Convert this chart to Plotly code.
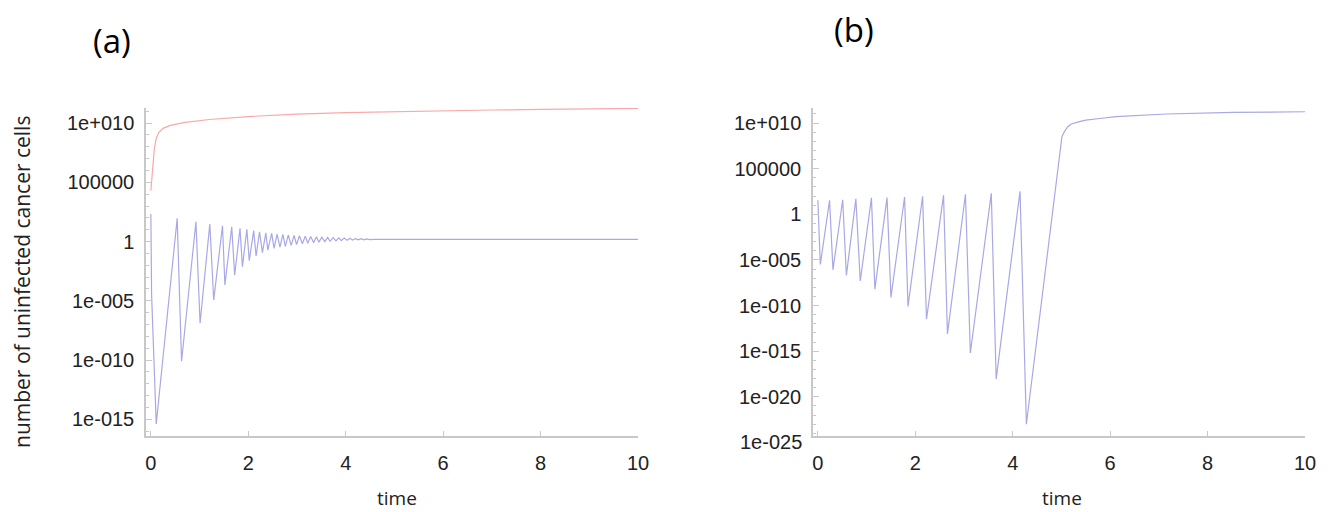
import plotly.graph_objects as go

# ---------------- data ----------------
# Panel (a): red series (log10 of value)
a_red_t = [0.0, 0.03, 0.07, 0.11, 0.16, 0.25, 0.4, 0.7, 1.2, 2.0, 3.0, 4.0, 5.0, 6.0, 7.0, 8.0, 9.0, 10.0]
a_red_log = [4.3, 6.0, 7.8, 8.7, 9.2, 9.55, 9.8, 10.05, 10.3, 10.55, 10.75, 10.88, 10.97, 11.04, 11.1, 11.15, 11.2, 11.24]

# Panel (a): blue series (log10 of value)
a_blue_t = [0.0, 0.015, 0.11, 0.54, 0.63, 0.925, 1.01, 1.21, 1.29, 1.47, 1.52, 1.66, 1.72,
            1.83, 1.88, 1.97, 2.02, 2.11, 2.16, 2.23, 2.29, 2.36, 2.40, 2.48, 2.53,
            2.59, 2.65, 2.71, 2.76, 2.82, 2.88, 2.94, 2.99, 3.05, 3.11, 3.17, 3.22,
            3.28, 3.34, 3.40, 3.45, 3.51, 3.57, 3.63, 3.68, 3.74, 3.80, 3.86, 3.91,
            3.97, 4.03, 4.09, 4.14, 4.20, 4.26, 4.32, 4.37, 4.43, 4.49, 4.55, 4.60,
            4.8, 10.0]
a_blue_log = [2.32, -4.5, -15.4, 1.96, -10.1, 1.67, -6.9, 1.48, -4.94, 1.33, -3.67, 1.24, -2.83,
              1.11, -2.13, 1.03, -1.62, 0.92, -1.22, 0.83, -0.94, 0.74, -0.72, 0.69, -0.58,
              0.63, -0.47, 0.60, -0.40, 0.55, -0.32, 0.52, -0.25, 0.49, -0.19, 0.46, -0.14,
              0.43, -0.09, 0.40, -0.05, 0.37, -0.01, 0.35, 0.02, 0.33, 0.05, 0.31, 0.08,
              0.29, 0.10, 0.27, 0.12, 0.25, 0.14, 0.24, 0.15, 0.22, 0.17, 0.21, 0.18,
              0.19, 0.19]

# Panel (b): blue series (log10 of value)
b_blue_t = [0.0, 0.05, 0.24, 0.31, 0.51, 0.585, 0.78, 0.87, 1.10, 1.17, 1.42, 1.50, 1.78, 1.85,
            2.15, 2.23, 2.58, 2.66, 3.03, 3.13, 3.56, 3.66, 4.15, 4.28, 5.01, 5.06, 5.13,
            5.2, 5.37, 5.5, 5.78, 6.12, 7.15, 8.52, 10.0]
b_blue_log = [1.54, -5.5, 1.54, -6.08, 1.6, -6.7, 1.7, -7.3, 1.8, -8.2, 1.83, -9.1, 1.9, -10.1,
              1.98, -11.5, 2.1, -13.1, 2.2, -15.2, 2.3, -18.05, 2.53, -23.0, 8.5, 9.05, 9.6,
              9.9, 10.15, 10.33, 10.5, 10.7, 10.99, 11.17, 11.24]

# tick labels
x_ticks = [0, 2, 4, 6, 8, 10]
a_ytick_exp = [10, 5, 0, -5, -10, -15]
a_ytick_text = ["1e+010", "100000", "1", "1e-005", "1e-010", "1e-015"]
b_ytick_exp = [10, 5, 0, -5, -10, -15, -20, -25]
b_ytick_text = ["1e+010", "100000", "1", "1e-005", "1e-010", "1e-015", "1e-020", "1e-025"]

panel_labels = ["(a)", "(b)"]
x_title = "time"
y_title = "number of uninfected cancer cells"

# ---------------- figure ----------------
OFF = 8                       # page body margin of the browser
W, H = 1328 - OFF, 512 - OFF


def px(x):
    return (x - OFF) / W


def py(y):
    return 1 - (y - OFF) / H


RED = "rgb(250,168,168)"
BLUE = "rgb(168,168,230)"
AXC = "rgb(200,200,200)"
TXT = "rgb(34,34,34)"

fig = go.Figure()
fig.add_trace(go.Scatter(x=a_red_t, y=[10 ** v for v in a_red_log], mode="lines",
                         line=dict(color=RED, width=1.2), xaxis="x", yaxis="y", showlegend=False))
fig.add_trace(go.Scatter(x=a_blue_t, y=[10 ** v for v in a_blue_log], mode="lines",
                         line=dict(color=BLUE, width=1.2), xaxis="x", yaxis="y", showlegend=False))
fig.add_trace(go.Scatter(x=b_blue_t, y=[10 ** v for v in b_blue_log], mode="lines",
                         line=dict(color=BLUE, width=1.2), xaxis="x2", yaxis="y2", showlegend=False))

tickfont = dict(family="Liberation Sans, Arial, sans-serif", size=20, color=TXT)


def xaxis(dom, anchor):
    return dict(domain=dom, anchor=anchor, range=[-0.1, 10], showgrid=False, zeroline=False,
                showline=True, linecolor=AXC, linewidth=1.5, ticks="inside", ticklen=5,
                tickcolor=AXC, tickvals=x_ticks, ticktext=[str(v) for v in x_ticks],
                tickfont=tickfont, ticklabelstandoff=8, automargin=False)


def yaxis(dom, anchor, rng, exps, texts, minor_exps):
    return dict(domain=dom, anchor=anchor, type="log", range=rng, showgrid=False, zeroline=False,
                showline=True, linecolor=AXC, linewidth=1.5, ticks="inside", ticklen=6,
                tickcolor=AXC, tickvals=[10 ** e for e in exps], ticktext=texts,
                tickfont=tickfont, ticklabelstandoff=6, automargin=False,
                minor=dict(tickvals=[10 ** e for e in minor_exps], ticks="inside", ticklen=3,
                           tickcolor=AXC, showgrid=False))


ydom = [py(436), py(108)]
fig.update_layout(
    width=W, height=H, autosize=False,
    margin=dict(l=0, r=0, t=0, b=0),
    paper_bgcolor="white", plot_bgcolor="white",
    xaxis=xaxis([px(146), px(638)], "y"),
    yaxis=yaxis(ydom, "x", [-16.41, 11.27], a_ytick_exp, a_ytick_text, list(range(-16, 12))),
    xaxis2=xaxis([px(813), px(1305)], "y2"),
    yaxis2=yaxis(ydom, "x2", [-24.29, 11.65], b_ytick_exp[:-1], b_ytick_text[:-1], list(range(-24, 12))),
)

labfont = dict(family="Open Sans, sans-serif", size=19, color=TXT)
big = dict(family="Open Sans, sans-serif", size=33, color="black")
common = dict(xref="paper", yref="paper", showarrow=False, xanchor="center", yanchor="middle")
anns = [
    dict(text=panel_labels[0], x=px(112), y=py(40), font=big, **common),
    dict(text=panel_labels[1], x=px(854), y=py(30), font=big, **common),
    dict(text=x_title, x=px(397), y=py(498), font=labfont, **common),
    dict(text=x_title, x=px(1062), y=py(498), font=labfont, **common),
    dict(text=y_title, x=px(22), y=py(282), textangle=-90,
         font=dict(family="Open Sans, sans-serif", size=21, color=TXT), **common),
    # last tick label of panel (b) sits just below the end of the axis
    dict(text=b_ytick_text[-1], x=px(804), y=py(442), xref="paper", yref="paper",
         xanchor="right", yanchor="middle", showarrow=False, font=tickfont),
]
fig.update_layout(annotations=anns)

fig.write_html("out.html")
